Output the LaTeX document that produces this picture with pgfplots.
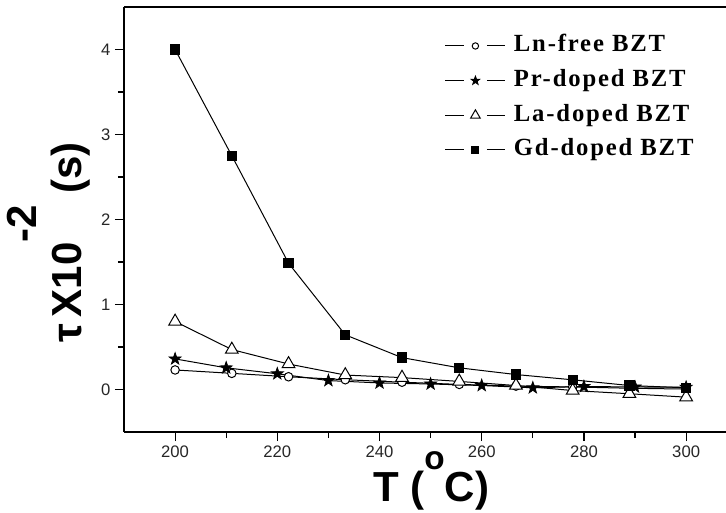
\documentclass[border=0pt]{standalone}
\usepackage{fontspec}
\setmainfont{Liberation Sans}
\newfontfamily\legfont[LetterSpace=7.5]{Liberation Serif}
\usepackage{pgfplots}
\pgfplotsset{compat=1.18}
\pgfdeclareplotmark{fstar}{%
  \pgfpathmoveto{\pgfpointpolar{90}{\pgfplotmarksize}}%
  \pgfpathlineto{\pgfpointpolar{126}{0.40\pgfplotmarksize}}%
  \pgfpathlineto{\pgfpointpolar{162}{\pgfplotmarksize}}%
  \pgfpathlineto{\pgfpointpolar{198}{0.40\pgfplotmarksize}}%
  \pgfpathlineto{\pgfpointpolar{234}{\pgfplotmarksize}}%
  \pgfpathlineto{\pgfpointpolar{270}{0.40\pgfplotmarksize}}%
  \pgfpathlineto{\pgfpointpolar{306}{\pgfplotmarksize}}%
  \pgfpathlineto{\pgfpointpolar{342}{0.40\pgfplotmarksize}}%
  \pgfpathlineto{\pgfpointpolar{18}{\pgfplotmarksize}}%
  \pgfpathlineto{\pgfpointpolar{54}{0.40\pgfplotmarksize}}%
  \pgfpathclose\pgfusepathqfillstroke}
\begin{document}
\begin{tikzpicture}
\useasboundingbox (0,0) rectangle (544.5pt,384pt);
\begin{axis}[
  at={(93pt,60pt)}, anchor=south west,
  scale only axis, width=451.5pt, height=318.75pt,
  xmin=190, xmax=307.8, ymin=-0.5, ymax=4.5,
  axis x line*=box, axis y line*=left,
  axis line style={line width=1.3pt},
  xtick={200,220,...,300}, minor x tick num=1,
  ytick={0,1,2,3,4}, minor y tick num=1,
  xtick pos=left, ytick pos=left,
  tick align=outside,
  major tick length=6.75pt, minor tick length=4.5pt,
  every tick/.style={black, line width=0.9pt},
  /pgf/number format/assume math mode=true,
  tick label style={font=\fontsize{12.5}{14}\selectfont, text=black!85},
  xlabel={\fontsize{31.5}{34}\selectfont\bfseries T (\raisebox{23.8pt}{\fontsize{25}{25}\selectfont o}C)},
  xlabel style={at={(axis description cs:0.51,-0.164)}, anchor=base},
  ylabel={\fontsize{31.5}{34}\selectfont\bfseries τ\,X10\raisebox{34pt}{-2} (s)},
  ylabel style={at={(axis description cs:-0.0698,0.446)}, anchor=base, rotate=0},
  legend style={draw=none, fill=none, at={(axis description cs:0.526,0.945)}, anchor=north west,
    font=\legfont\bfseries\fontsize{18.5}{21}\selectfont,
    nodes={inner sep=1pt, text height=13pt, text depth=4pt},
    row sep=7pt,
    /tikz/every odd column/.append style={column sep=5pt}},
  legend cell align=left,
  legend image code/.code={%
    \draw[#1] (0pt,0pt)--(14pt,0pt);
    \draw[#1] (31pt,0pt)--(45pt,0pt);
    \draw[#1,every mark/.append style={scale=0.75}] plot coordinates {(22.5pt,0pt)};},
]
\addplot[black, line width=0.75pt, mark=*, mark size=3.2pt, mark options={fill=white, line width=0.75pt}] coordinates {
(200,0.23) (211.1,0.19) (222.2,0.15) (233.3,0.115) (244.4,0.086) (255.6,0.06) (266.7,0.04) (277.8,0.03) (288.9,0.015) (300,0.005)};
\addlegendentry{Ln-free BZT}
\addplot[black, line width=0.75pt, mark=fstar, mark size=4.8pt, mark options={fill=black, line width=0.5pt}] coordinates {
(200,0.36) (210,0.255) (220,0.185) (230,0.105) (240,0.077) (250,0.065) (260,0.047) (270,0.02) (280,0.035) (290,0.03) (300,0.027)};
\addlegendentry{Pr-doped BZT}
\addplot[black, line width=0.75pt, mark=triangle*, mark size=5.5pt, mark options={fill=white, line width=0.75pt}] coordinates {
(200,0.80) (211.1,0.47) (222.2,0.30) (233.3,0.17) (244.4,0.14) (255.6,0.095) (266.7,0.047) (277.8,-0.012) (288.9,-0.05) (300,-0.09)};
\addlegendentry{La-doped BZT}
\addplot[black, line width=0.75pt, mark=square*, mark size=3.5pt, mark options={fill=black}] coordinates {
(200,4.00) (211.1,2.75) (222.2,1.486) (233.3,0.643) (244.4,0.375) (255.6,0.255) (266.7,0.176) (277.8,0.114) (288.9,0.047) (300,0.02)};
\addlegendentry{Gd-doped BZT}
\end{axis}
\end{tikzpicture}
\end{document}
